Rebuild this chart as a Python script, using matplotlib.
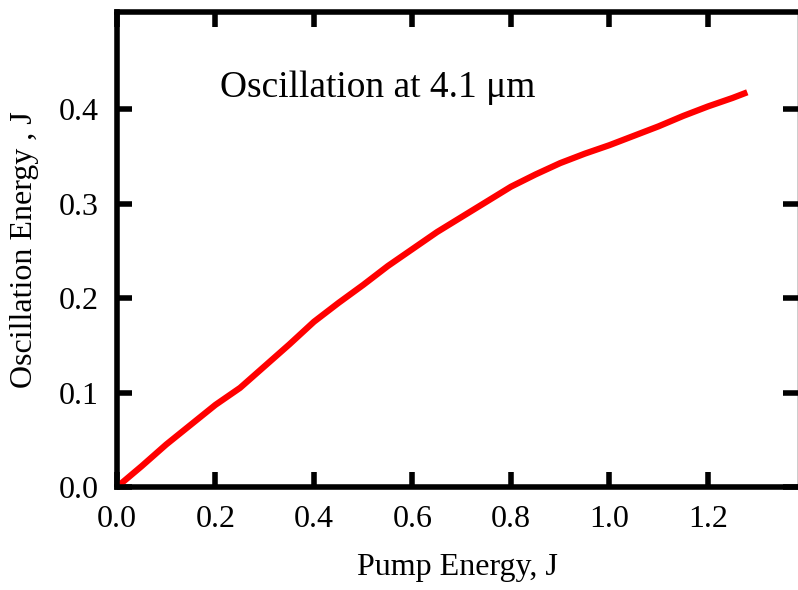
import matplotlib.pyplot as plt

pump = [0, 0.05, 0.1, 0.15, 0.2, 0.25, 0.3, 0.35, 0.4, 0.45, 0.5, 0.55, 0.6, 0.65,
        0.7, 0.75, 0.8, 0.85, 0.9, 0.95, 1.0, 1.05, 1.1, 1.15, 1.2, 1.25, 1.28]
osc = [0, 0.022, 0.045, 0.066, 0.087, 0.105, 0.128, 0.151, 0.175, 0.195, 0.214, 0.234,
       0.252, 0.270, 0.286, 0.302, 0.318, 0.331, 0.343, 0.353, 0.362, 0.372, 0.382,
       0.393, 0.403, 0.412, 0.418]
xticks = [0.0, 0.2, 0.4, 0.6, 0.8, 1.0, 1.2]
yticks = [0.0, 0.1, 0.2, 0.3, 0.4]

plt.rcParams['font.family'] = ['Liberation Serif', 'DejaVu Serif']

fig = plt.figure(figsize=(7.98, 5.90), dpi=100)
ax = fig.add_axes([0.1466, 0.1746, 0.8528, 0.805])

ax.plot(pump, osc, color='red', lw=4.5, solid_capstyle='butt')

ax.set_xlim(0, 1.382)
ax.set_ylim(0, 0.503)
ax.set_xticks(xticks)
ax.set_yticks(yticks)
ax.set_xticklabels(['%.1f' % v for v in xticks])
ax.set_yticklabels(['%.1f' % v for v in yticks])
ax.tick_params(direction='in', length=11, width=4, labelsize=23, pad=13,
               top=True, right=True)
for s in ax.spines.values():
    s.set_linewidth(4)
# right border is only a hairline at the image edge in the reference
ax.spines['right'].set_linewidth(1)

ax.set_xlabel('Pump Energy, J', fontsize=23, labelpad=14)
ax.set_ylabel('Oscillation Energy , J', fontsize=23, labelpad=14)
ax.text(0.209, 0.413, 'Oscillation at 4.1 \u03bcm', fontsize=27)

fig.savefig('out.png', dpi=100)
